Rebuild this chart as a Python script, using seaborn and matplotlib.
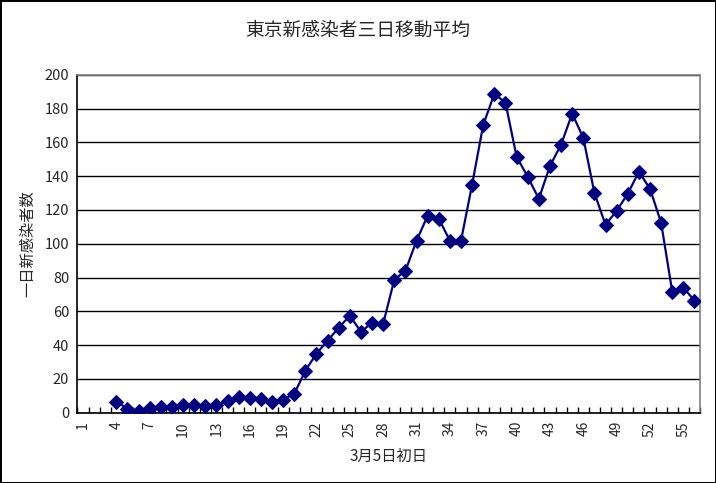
import matplotlib
matplotlib.use("Agg")
import matplotlib.pyplot as plt
import seaborn as sns
import pandas as pd
from matplotlib.ticker import FixedLocator, MultipleLocator

# ==========================
# Data
# ==========================
days = list(range(4, 57))
avg_cases = [
    6.5, 2.4, 1.2, 3.0, 3.5, 3.5, 4.7, 4.7, 4.1, 4.7,
    7.0, 9.5, 9.0, 8.3, 6.5, 7.7, 11.2, 24.9, 35.0, 42.6,
    50.3, 57.4, 47.9, 53.3, 52.7, 78.7, 84.0, 101.8, 116.6, 114.8,
    101.8, 101.8, 135.0, 170.4, 188.7, 183.4, 151.5, 139.6, 126.6, 146.0,
    158.6, 177.0, 162.7, 130.0, 111.2, 119.5, 129.6, 142.6, 132.5, 112.4,
    71.6, 74.0, 66.3,
]
tick_days = list(range(1, 57, 3))

title = "東京新感染者三日移動平均"
ylabel = "一日新感染者数"
xlabel = "3月5日初日"

df = pd.DataFrame({"day": days, "cases": avg_cases})

# ==========================
# Style
# ==========================
sns.set_theme(style="white")
plt.rcParams["font.family"] = ["Noto Sans CJK JP", "DejaVu Sans"]

fig = plt.figure(figsize=(7.16, 4.83), dpi=100)
fig.patch.set_facecolor("white")
fig.patch.set_edgecolor("black")
fig.patch.set_linewidth(2)

ax = fig.add_axes([0.1082, 0.1455, 0.8695, 0.6998])
ax.set_facecolor("white")

sns.lineplot(
    data=df,
    x="day",
    y="cases",
    ax=ax,
    color="#000080",
    linewidth=1.6,
    marker="D",
    markersize=7,
    markeredgecolor="#000080",
    markerfacecolor="#000080",
    zorder=3,
)

# axes limits / ticks
ax.set_xlim(0.5, 56.5)
ax.set_ylim(0, 200)
ax.yaxis.set_major_locator(MultipleLocator(20))
ax.grid(axis="y", color="black", linewidth=1)
ax.set_axisbelow(True)

ax.xaxis.set_major_locator(FixedLocator(tick_days))
ax.set_xticklabels([str(d) for d in tick_days], rotation=90, fontsize=10)
ax.xaxis.set_minor_locator(FixedLocator([d + 0.5 for d in range(0, 57)]))
ax.tick_params(axis="x", which="major", length=0, pad=6)
ax.tick_params(axis="x", which="minor", direction="in", length=4,
               width=1, color="black", bottom=True)
ax.tick_params(axis="y", length=0, labelsize=10.5, pad=6)

for side in ["left", "bottom"]:
    ax.spines[side].set_color("black")
    ax.spines[side].set_linewidth(1.2)
for side in ["top", "right"]:
    ax.spines[side].set_color("#808080")
    ax.spines[side].set_linewidth(1.2)

fig.text(0.5, 0.938, title, fontsize=13.5, ha="center", va="center")
ax.set_ylabel(ylabel, fontsize=11, labelpad=6)
ax.set_xlabel(xlabel, fontsize=11, labelpad=8)

plt.savefig("out.png", dpi=100, facecolor=fig.get_facecolor(),
            edgecolor=fig.get_edgecolor())
plt.close()
